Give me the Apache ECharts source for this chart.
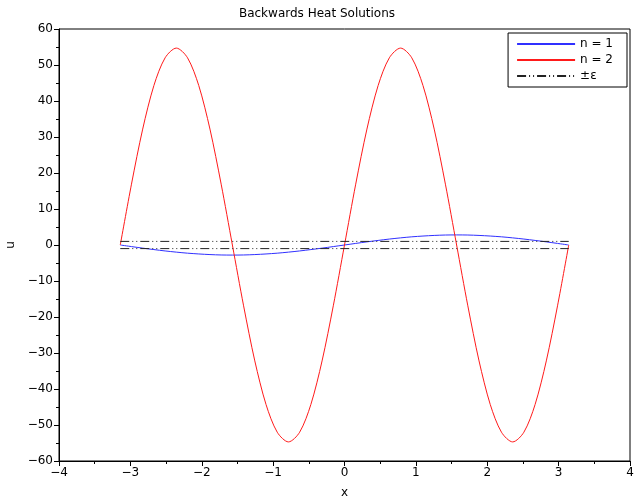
<!DOCTYPE html>
<html>
<head>
<meta charset="utf-8">
<script src="https://cdn.jsdelivr.net/npm/echarts@6/dist/echarts.min.js"></script>
<style>
  html, body { margin: 0; padding: 0; background: #fff; }
  #chart { width: 634px; height: 498px; }
</style>
</head>
<body>
<div id="chart"></div>
<script>
// x samples, step pi/20 from -pi to pi
var xs = [-3.1416, -2.9845, -2.8274, -2.6704, -2.5133, -2.3562, -2.1991, -2.0420, -1.8850, -1.7279,
          -1.5708, -1.4137, -1.2566, -1.0996, -0.9425, -0.7854, -0.6283, -0.4712, -0.3142, -0.1571,
          0.0000, 0.1571, 0.3142, 0.4712, 0.6283, 0.7854, 0.9425, 1.0996, 1.2566, 1.4137,
          1.5708, 1.7279, 1.8850, 2.0420, 2.1991, 2.3562, 2.5133, 2.6704, 2.8274, 2.9845, 3.1416];

// n = 1
var n1 = [0, -0.44, -0.87, -1.27, -1.65, -1.98, -2.27, -2.49, -2.66, -2.77,
          -2.8, -2.77, -2.66, -2.49, -2.27, -1.98, -1.65, -1.27, -0.87, -0.44,
          0, 0.44, 0.87, 1.27, 1.65, 1.98, 2.27, 2.49, 2.66, 2.77,
          2.8, 2.77, 2.66, 2.49, 2.27, 1.98, 1.65, 1.27, 0.87, 0.44, 0];

// n = 2
var n2 = [0, 16.9, 32.2, 44.3, 52.0, 54.7, 52.0, 44.3, 32.2, 16.9,
          0, -16.9, -32.2, -44.3, -52.0, -54.7, -52.0, -44.3, -32.2, -16.9,
          0, 16.9, 32.2, 44.3, 52.0, 54.7, 52.0, 44.3, 32.2, 16.9,
          0, -16.9, -32.2, -44.3, -52.0, -54.7, -52.0, -44.3, -32.2, -16.9, 0];

// +/- epsilon band
var epsX = [-3.1416, 3.1416];
var epsUp = [1, 1];
var epsDown = [-1, -1];

function pairs(x, y) {
    var out = [];
    for (var i = 0; i < x.length; i++) out.push([x[i], y[i]]);
    return out;
}

function minus(v) {
    return String(v).replace('-', '\u2212');
}

var font = 'DejaVu Sans';
var chart = echarts.init(document.getElementById('chart'));

var option = {
    animation: false,
    backgroundColor: '#fff',
    title: {
        text: 'Backwards Heat Solutions',
        left: 'center',
        top: 3,
        textStyle: { fontFamily: font, fontSize: 12, fontWeight: 'normal', color: '#000' }
    },
    legend: {
        orient: 'vertical',
        right: 7,
        top: 33,
        itemWidth: 58,
        itemHeight: 8,
        itemGap: 4,
        padding: [5, 14, 5, 8],
        borderColor: '#000',
        borderWidth: 1,
        backgroundColor: '#fff',
        itemStyle: { opacity: 0 },
        textStyle: { fontFamily: font, fontSize: 12, color: '#000' },
        data: ['n = 1', 'n = 2', '\u00b1\u03b5']
    },
    grid: {
        left: 59, right: 4, top: 29, bottom: 37,
        outerBoundsMode: 'none',
        containLabel: false,
        show: true, borderColor: '#000', borderWidth: 1
    },
    xAxis: {
        type: 'value',
        min: -4, max: 4, interval: 1,
        name: 'x', nameLocation: 'middle', nameGap: 26,
        nameTextStyle: { fontFamily: font, fontSize: 12, color: '#000' },
        axisLine: { onZero: false, lineStyle: { color: '#000' } },
        axisTick: { length: 5, lineStyle: { color: '#000' } },
        minorTick: { show: true, splitNumber: 2, length: 3, lineStyle: { color: '#000' } },
        splitLine: { show: false },
        axisLabel: { fontFamily: font, fontSize: 12, color: '#000', margin: 6, formatter: minus }
    },
    yAxis: {
        type: 'value',
        min: -60, max: 60, interval: 10,
        name: 'u', nameLocation: 'middle', nameGap: 40,
        nameTextStyle: { fontFamily: font, fontSize: 12, color: '#000' },
        axisLine: { onZero: false, lineStyle: { color: '#000' } },
        axisTick: { length: 5, lineStyle: { color: '#000' } },
        minorTick: { show: true, splitNumber: 2, length: 3, lineStyle: { color: '#000' } },
        splitLine: { show: false },
        axisLabel: { fontFamily: font, fontSize: 12, color: '#000', margin: 6, formatter: minus }
    },
    series: [
        {
            name: 'n = 1', type: 'line', data: pairs(xs, n1),
            showSymbol: false, symbol: 'none', smooth: 0.3,
            lineStyle: { color: '#3030ff', width: 1 }, itemStyle: { color: '#3030ff' }
        },
        {
            name: 'n = 2', type: 'line', data: pairs(xs, n2),
            showSymbol: false, symbol: 'none', smooth: 0.3,
            lineStyle: { color: '#ff1a1a', width: 1 }, itemStyle: { color: '#ff1a1a' }
        },
        {
            name: '\u00b1\u03b5', type: 'line', data: pairs(epsX, epsUp),
            showSymbol: false, symbol: 'none',
            lineStyle: { color: '#222', width: 1, type: [9, 3, 1, 3, 1, 3] }, itemStyle: { color: '#222' }
        },
        {
            name: '\u00b1\u03b5', type: 'line', data: pairs(epsX, epsDown),
            showSymbol: false, symbol: 'none',
            lineStyle: { color: '#222', width: 1, type: [9, 3, 1, 3, 1, 3] }, itemStyle: { color: '#222' }
        }
    ]
};

chart.setOption(option);
</script>
</body>
</html>
